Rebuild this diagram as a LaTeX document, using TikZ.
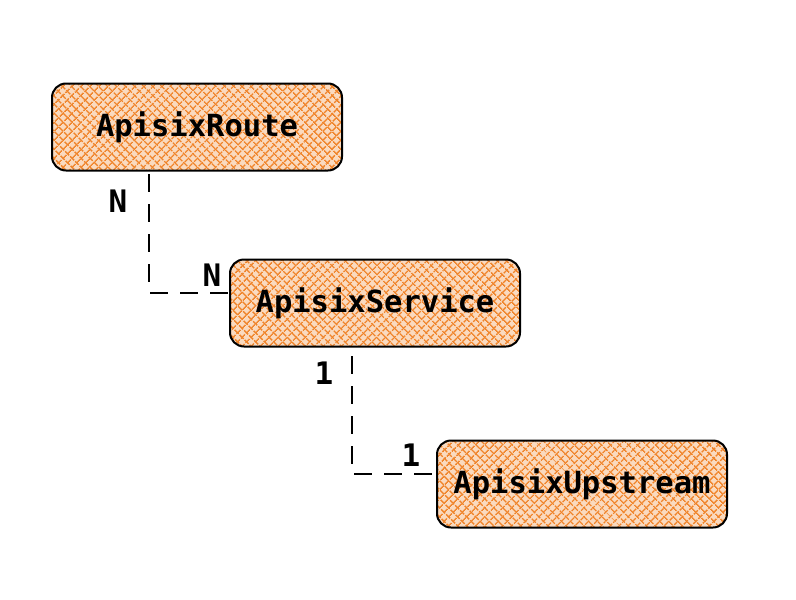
\documentclass[tikz,border=0pt]{standalone}
\usepackage{fontspec}
\newfontfamily\codefont{DejaVu Sans Mono}
\usetikzlibrary{patterns.meta}
\definecolor{hatch}{RGB}{240,132,42}

\tikzset{
  crd/.style={draw=black,line width=2pt,rounded corners=14pt,
    minimum width=290pt,minimum height=87pt,inner sep=0pt,
    preaction={fill=hatch!30},
    preaction={pattern={Lines[angle=45,distance=6.5pt,line width=1.6pt]},pattern color=hatch},
    pattern={Lines[angle=-45,distance=6.5pt,line width=1.6pt]},pattern color=hatch,
    font=\codefont\bfseries\fontsize{30.5}{36}\selectfont},
  link/.style={draw=black,line width=2.5pt,dash pattern=on 18pt off 12pt},
  card/.style={font=\codefont\bfseries\fontsize{31}{36}\selectfont}
}

\begin{document}
\begin{tikzpicture}[x=1pt,y=-1pt]
\useasboundingbox (0,0) rectangle (796,600);

% the three resources
\node[crd] (route) at (197,127) {ApisixRoute};
\node[crd] (service) at (375,303) {ApisixService};
\node[crd] (upstream) at (582,484) {ApisixUpstream};

% route - service
\coordinate (rk) at (149,174);
\draw[link] (rk) |- ([yshift=10pt]service.west);
\node[card] (rn) at (118,201) {N};
\node[card] (sn) at (212,275) {N};

% service - upstream
\coordinate (sk) at (352,356);
\draw[link] (sk) |- ([yshift=10pt]upstream.west);
\node[card] (s1) at (324,373) {1};
\node[card] (u1) at (411,455) {1};
\end{tikzpicture}
\end{document}
